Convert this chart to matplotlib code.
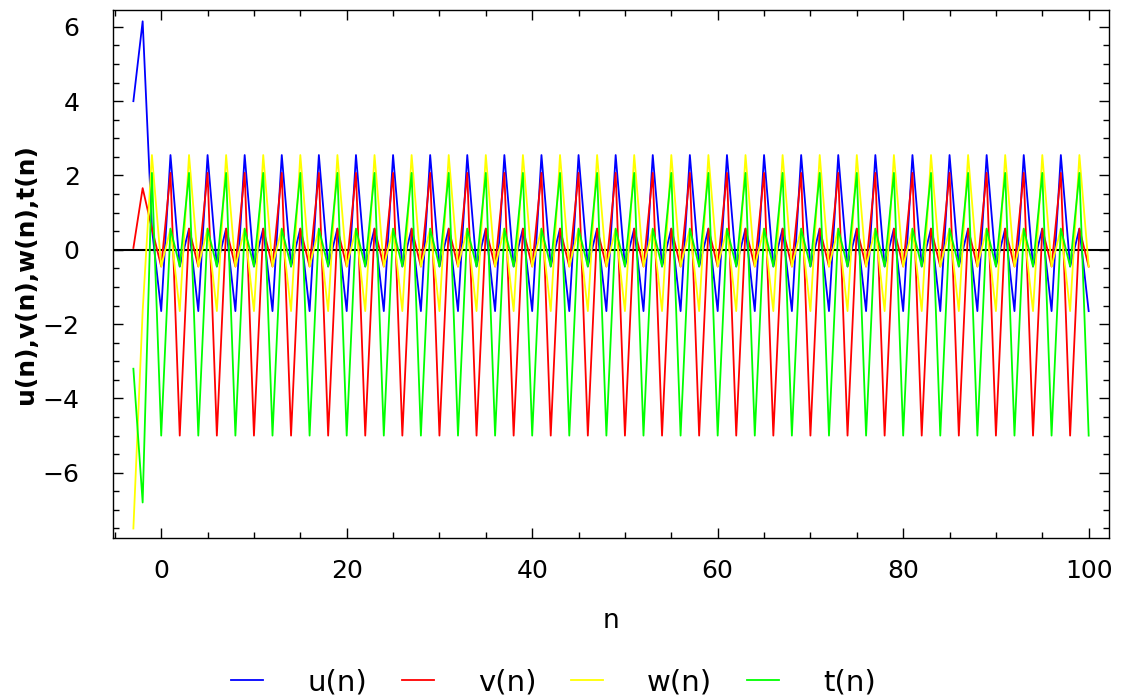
import matplotlib.pyplot as plt
import numpy as np
from matplotlib.ticker import MultipleLocator

# n runs from -3 to 100
n = list(range(-3, 101))

u = [4.0, 6.15, 0.57,
     -1.65, 2.55, -0.45, 0.57, -1.65, 2.55, -0.45, 0.57, -1.65, 2.55, -0.45, 0.57,
     -1.65, 2.55, -0.45, 0.57, -1.65, 2.55, -0.45, 0.57, -1.65, 2.55, -0.45, 0.57,
     -1.65, 2.55, -0.45, 0.57, -1.65, 2.55, -0.45, 0.57, -1.65, 2.55, -0.45, 0.57,
     -1.65, 2.55, -0.45, 0.57, -1.65, 2.55, -0.45, 0.57, -1.65, 2.55, -0.45, 0.57,
     -1.65, 2.55, -0.45, 0.57, -1.65, 2.55, -0.45, 0.57, -1.65, 2.55, -0.45, 0.57,
     -1.65, 2.55, -0.45, 0.57, -1.65, 2.55, -0.45, 0.57, -1.65, 2.55, -0.45, 0.57,
     -1.65, 2.55, -0.45, 0.57, -1.65, 2.55, -0.45, 0.57, -1.65, 2.55, -0.45, 0.57,
     -1.65, 2.55, -0.45, 0.57, -1.65, 2.55, -0.45, 0.57, -1.65, 2.55, -0.45, 0.57,
     -1.65, 2.55, -0.45, 0.57,
     -1.65]

v = [0.05, 1.66, 0.57,
     -0.45, 2.07, -5.0, 0.57, -0.45, 2.07, -5.0, 0.57, -0.45, 2.07, -5.0, 0.57,
     -0.45, 2.07, -5.0, 0.57, -0.45, 2.07, -5.0, 0.57, -0.45, 2.07, -5.0, 0.57,
     -0.45, 2.07, -5.0, 0.57, -0.45, 2.07, -5.0, 0.57, -0.45, 2.07, -5.0, 0.57,
     -0.45, 2.07, -5.0, 0.57, -0.45, 2.07, -5.0, 0.57, -0.45, 2.07, -5.0, 0.57,
     -0.45, 2.07, -5.0, 0.57, -0.45, 2.07, -5.0, 0.57, -0.45, 2.07, -5.0, 0.57,
     -0.45, 2.07, -5.0, 0.57, -0.45, 2.07, -5.0, 0.57, -0.45, 2.07, -5.0, 0.57,
     -0.45, 2.07, -5.0, 0.57, -0.45, 2.07, -5.0, 0.57, -0.45, 2.07, -5.0, 0.57,
     -0.45, 2.07, -5.0, 0.57, -0.45, 2.07, -5.0, 0.57, -0.45, 2.07, -5.0, 0.57,
     -0.45, 2.07, -5.0, 0.57,
     -0.45]

w = [-7.5, -1.65, 2.55,
     -0.45, 0.57, -1.65, 2.55, -0.45, 0.57, -1.65, 2.55, -0.45, 0.57, -1.65, 2.55,
     -0.45, 0.57, -1.65, 2.55, -0.45, 0.57, -1.65, 2.55, -0.45, 0.57, -1.65, 2.55,
     -0.45, 0.57, -1.65, 2.55, -0.45, 0.57, -1.65, 2.55, -0.45, 0.57, -1.65, 2.55,
     -0.45, 0.57, -1.65, 2.55, -0.45, 0.57, -1.65, 2.55, -0.45, 0.57, -1.65, 2.55,
     -0.45, 0.57, -1.65, 2.55, -0.45, 0.57, -1.65, 2.55, -0.45, 0.57, -1.65, 2.55,
     -0.45, 0.57, -1.65, 2.55, -0.45, 0.57, -1.65, 2.55, -0.45, 0.57, -1.65, 2.55,
     -0.45, 0.57, -1.65, 2.55, -0.45, 0.57, -1.65, 2.55, -0.45, 0.57, -1.65, 2.55,
     -0.45, 0.57, -1.65, 2.55, -0.45, 0.57, -1.65, 2.55, -0.45, 0.57, -1.65, 2.55,
     -0.45, 0.57, -1.65, 2.55,
     -0.45]

t = [-3.2, -6.8, 2.07,
     -5.0, 0.57, -0.45, 2.07, -5.0, 0.57, -0.45, 2.07, -5.0, 0.57, -0.45, 2.07,
     -5.0, 0.57, -0.45, 2.07, -5.0, 0.57, -0.45, 2.07, -5.0, 0.57, -0.45, 2.07,
     -5.0, 0.57, -0.45, 2.07, -5.0, 0.57, -0.45, 2.07, -5.0, 0.57, -0.45, 2.07,
     -5.0, 0.57, -0.45, 2.07, -5.0, 0.57, -0.45, 2.07, -5.0, 0.57, -0.45, 2.07,
     -5.0, 0.57, -0.45, 2.07, -5.0, 0.57, -0.45, 2.07, -5.0, 0.57, -0.45, 2.07,
     -5.0, 0.57, -0.45, 2.07, -5.0, 0.57, -0.45, 2.07, -5.0, 0.57, -0.45, 2.07,
     -5.0, 0.57, -0.45, 2.07, -5.0, 0.57, -0.45, 2.07, -5.0, 0.57, -0.45, 2.07,
     -5.0, 0.57, -0.45, 2.07, -5.0, 0.57, -0.45, 2.07, -5.0, 0.57, -0.45, 2.07,
     -5.0, 0.57, -0.45, 2.07,
     -5.0]

fig = plt.figure(figsize=(11.23, 6.98), dpi=100)
ax = fig.add_axes([0.1006, 0.229, 0.887, 0.757])

ax.axhline(0, color='black', lw=1.5, zorder=1)
ax.plot(n, u, color=(0, 0, 1), lw=1.3, label='u(n)')
ax.plot(n, v, color=(1, 0, 0), lw=1.3, label='v(n)')
ax.plot(n, w, color=(1, 1, 0), lw=1.3, label='w(n)')
ax.plot(n, t, color=(0, 1, 0), lw=1.3, label='t(n)')

ax.set_xlim(-5.2, 102.2)
ax.set_ylim(-7.76, 6.46)
ax.xaxis.set_major_locator(MultipleLocator(20))
ax.xaxis.set_minor_locator(MultipleLocator(5))
ax.yaxis.set_major_locator(MultipleLocator(2))
ax.yaxis.set_minor_locator(MultipleLocator(0.5))
ax.tick_params(which='both', direction='in', top=True, right=True, labelsize=18, width=1.0)
ax.tick_params(which='major', length=7)
ax.tick_params(which='minor', length=4)
ax.tick_params(axis='x', pad=15)
ax.tick_params(axis='y', pad=24)
for s in ax.spines.values():
    s.set_linewidth(1.0)

ax.set_xlabel('n', fontsize=19, labelpad=18)
ax.set_ylabel('u(n),v(n),w(n),t(n)', fontsize=18, fontweight='bold', labelpad=3)

fig.legend(loc='center', bbox_to_anchor=(0.493, 0.022), ncol=4, frameon=False,
           fontsize=21, handlelength=1.1, columnspacing=1.2, handletextpad=1.5)

plt.savefig('out.png', dpi=100)
